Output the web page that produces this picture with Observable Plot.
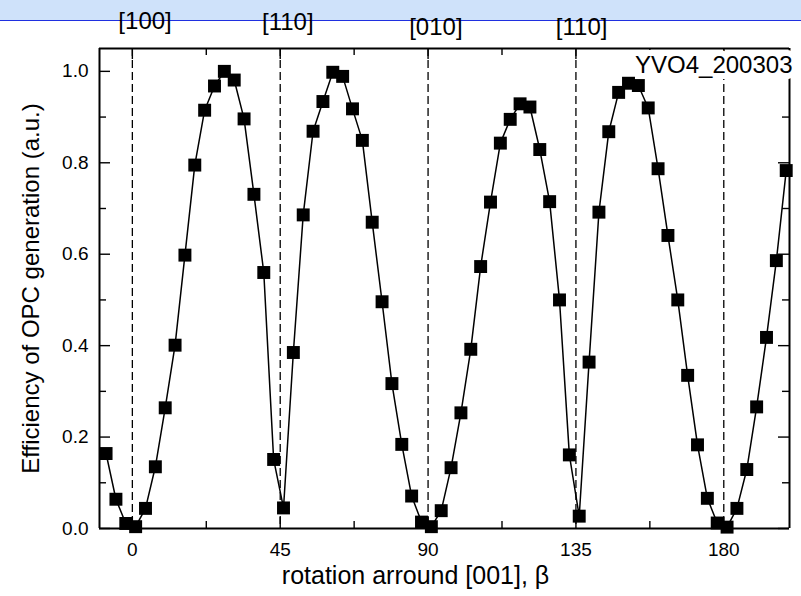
<!DOCTYPE html>
<html><head><meta charset="utf-8">
<script src="https://cdn.jsdelivr.net/npm/d3@7"></script>
<script src="https://cdn.jsdelivr.net/npm/@observablehq/plot@0.6"></script>
<style>
body{margin:0;background:#fff;}
#wrap{position:relative;width:801px;height:596px;overflow:hidden;}
#band{position:absolute;left:0;top:0;width:801px;height:20px;background:#cfe2fa;border-bottom:1.5px solid #1f2fe0;}
#chart{position:absolute;left:0;top:0;}
</style></head><body>
<div id="wrap"><div id="band"></div><div id="chart"></div></div>
<script>
const angles = [-8,-5,-2,1,4,7,10,13,16,19,22,25,28,31,34,37,40,43,46,49,52,55,58,61,64,67,70,73,76,79,82,85,88,91,94,97,100,103,106,109,112,115,118,121,124,127,130,133,136,139,142,145,148,151,154,157,160,163,166,169,172,175,178,181,184,187,190,193,196,199];
const efficiency = [0.164,0.064,0.011,0.004,0.044,0.135,0.264,0.401,0.598,0.795,0.915,0.968,1.000,0.981,0.896,0.731,0.560,0.151,0.045,0.385,0.686,0.869,0.934,0.998,0.989,0.918,0.849,0.670,0.496,0.317,0.184,0.071,0.014,0.004,0.039,0.133,0.253,0.392,0.573,0.714,0.843,0.895,0.929,0.922,0.829,0.715,0.500,0.161,0.027,0.364,0.692,0.868,0.954,0.974,0.969,0.920,0.787,0.641,0.500,0.335,0.183,0.066,0.012,0.003,0.044,0.129,0.266,0.418,0.586,0.783];
const crystalAxes = [0, 45, 90, 135, 180];
const directionLabels = ["[100]", "[110]", "[010]", "[110]"];
const majorX = [0, 45, 90, 135, 180];
const minorX = [22.5, 67.5, 112.5, 157.5];
const majorY = [0, 0.2, 0.4, 0.6, 0.8, 1.0];
const minorY = [0.1, 0.3, 0.5, 0.7, 0.9];
const xDomain = [-10, 200];
const yDomain = [0, 1.05];
const sampleName = "YVO4_200303";
const xTitle = "rotation arround [001], \u03B2";
const yTitle = "Efficiency of OPC generation (a.u.)";

const data = angles.map((a, i) => ({angle: a, eff: efficiency[i]}));
const font = "'Liberation Sans', Arial, sans-serif";
const W = 801, H = 596, ML = 99, MR = 12, MT = 48, MB = 68;
const PW = W - ML - MR, PH = H - MT - MB;
const labelStyle = [
  {dx: 12.7, dy: -36.4},
  {dx: 7.6, dy: -36},
  {dx: 7.8, dy: -31},
  {dx: 5.7, dy: -31}
];
const tk = {stroke: "#000", strokeWidth: 1.4};

const plot = Plot.plot({
  width: W, height: H,
  marginLeft: ML, marginRight: MR, marginTop: MT, marginBottom: MB,
  style: {fontFamily: font, fontSize: "19px", color: "#000", background: "transparent", overflow: "visible"},
  x: {domain: xDomain},
  y: {domain: yDomain},
  marks: [
    Plot.ruleX(crystalAxes, {stroke: "#000", strokeWidth: 1.3, strokeDasharray: "8,4"}),
    Plot.ruleX(majorX, {x: d => d, insetTop: PH - 11, ...tk}),
    Plot.ruleX(minorX, {x: d => d, insetTop: PH - 7, ...tk}),
    Plot.ruleX(majorX, {x: d => d, insetBottom: PH - 11, ...tk}),
    Plot.ruleX(minorX, {x: d => d, insetBottom: PH - 7, ...tk}),
    Plot.ruleY(majorY, {y: d => d, insetRight: PW - 11, ...tk}),
    Plot.ruleY(minorY, {y: d => d, insetRight: PW - 7, ...tk}),
    Plot.ruleY(majorY, {y: d => d, insetLeft: PW - 11, ...tk}),
    Plot.ruleY(minorY, {y: d => d, insetLeft: PW - 7, ...tk}),
    Plot.ruleX(xDomain, {x: d => d, stroke: "#000", strokeWidth: 2}),
    Plot.ruleY(yDomain, {y: d => d, stroke: "#000", strokeWidth: 2}),
    Plot.axisX(majorX, {anchor: "bottom", tickSize: 0, tickPadding: 14, label: null, fontSize: 19}),
    Plot.axisY(majorY, {anchor: "left", tickSize: 0, tickPadding: 11, tickFormat: d3.format(".1f"), label: null, fontSize: 19}),
    Plot.text([sampleName], {frameAnchor: "top-right", textAnchor: "end", lineAnchor: "top", dx: 3, dy: 7, fontSize: 24, fill: "#000", stroke: "white", strokeWidth: 12, strokeLinejoin: "round", paintOrder: "stroke"}),
    Plot.line(data, {x: "angle", y: "eff", stroke: "#000", strokeWidth: 1.5}),
    Plot.dot(data, {x: "angle", y: "eff", symbol: "square", r: 7.3, fill: "#000", stroke: "none"}),
    ...directionLabels.map((t, i) => Plot.text([t], {x: crystalAxes[i], frameAnchor: "top", fontSize: 24, fill: "#000", ...labelStyle[i]})),
    Plot.text([xTitle], {frameAnchor: "bottom", dx: -29, dy: 55, fontSize: 25, fill: "#000"}),
    Plot.text([yTitle], {frameAnchor: "left", textAnchor: "middle", rotate: -90, dx: -68, fontSize: 24, fill: "#000"})
  ]
});
document.getElementById("chart").appendChild(plot);
</script>
</body></html>
